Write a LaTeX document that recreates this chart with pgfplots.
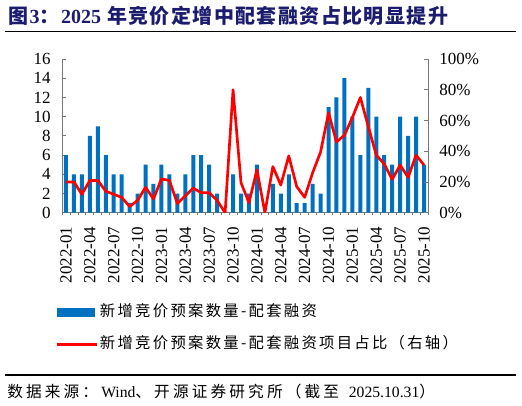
\documentclass[border=0pt]{standalone}
\usepackage{fontspec}
\usepackage{pgfplots}
\pgfplotsset{compat=1.18}
\setmainfont{Liberation Serif}
\newfontfamily\cjkleg[LetterSpace=15]{Noto Sans CJK SC}
\newfontfamily\cjksrc[LetterSpace=20]{Noto Sans CJK SC}
\newfontfamily\cjktitle[LetterSpace=7]{Noto Sans CJK SC}
\definecolor{barblue}{RGB}{0,112,192}
\definecolor{titleblue}{RGB}{28,28,110}
\definecolor{spine}{RGB}{120,120,120}

\pgfplotsset{
  base/.style={
    at={(46.5pt,144.2pt)}, anchor=south west,
    scale only axis, width=274.5pt, height=115.3pt,
    xmin=-0.5, xmax=45.5, ymin=0,
    axis line style={spine, line width=0.6pt},
    tick style={spine, line width=0.6pt},
    tick align=inside, major tick length=3pt,
    tick label style={font=\fontsize{12.75pt}{14pt}\selectfont},
    /pgf/number format/assume math mode=true,
  },
}

\begin{document}
\begin{tikzpicture}
\begin{scope}[x=0.75pt,y=0.75pt]
\useasboundingbox (0,0) rectangle (522,405);
\node[anchor=west, inner sep=0, text=titleblue, font=\fontsize{15pt}{17pt}\selectfont\bfseries]
  at (8,389.5) {\cjktitle 图\textrm{3}：\textrm{2025} 年竞价定增中配套融资占比明显提升};
\draw[line width=0.8pt] (5,373.5) -- (516,373.5);
\draw[line width=0.8pt] (5,30) -- (516,30);
\node[anchor=west, inner sep=0, font=\fontsize{11.75pt}{13pt}\selectfont]
  at (7,13.5) {\cjksrc 数据来源：\textrm{Wind}、开源证券研究所（截至 \textrm{2025.10.31}）};
\end{scope}

% 新增竞价预案数量-配套融资 (left axis)
\begin{axis}[base,
  ymax=16, ytick={0,2,...,16},
  axis x line*=bottom, axis y line*=left,
  ybar, bar width=3pt,
  xtick={0,3,...,45},
  xticklabels={2022-01,2022-04,2022-07,2022-10,2023-01,2023-04,2023-07,2023-10,
    2024-01,2024-04,2024-07,2024-10,2025-01,2025-04,2025-07,2025-10},
  x tick label style={rotate=90, anchor=east},
  xticklabel shift=4pt,
  major x tick style={draw=none},
  minor xtick={-0.5,0.5,...,45.5}, minor tick length=2pt,
  yticklabel shift=5pt,
  legend style={at={(axis description cs:-0.019,-0.589)}, anchor=north west,
    draw=none, fill=none, inner sep=0pt, row sep=11pt,
    font=\cjkleg\fontsize{11.5pt}{14pt}\selectfont,
    nodes={inner sep=1.5pt, text height=8pt, text depth=2pt}},
  legend cell align=left,
]
\addplot[fill=barblue, draw=none,
  legend image code/.code={\fill[barblue] (0pt,-3.4pt) rectangle (28.5pt,3.4pt);}]
  coordinates {
  (0,6) (1,4) (2,4) (3,8) (4,9) (5,6) (6,4) (7,4) (8,1) (9,2) (10,5) (11,3)
  (12,5) (13,4) (14,2) (15,4) (16,6) (17,6) (18,5) (19,2) (20,0) (21,4) (22,2) (23,2)
  (24,5) (25,0) (26,3) (27,2) (28,4) (29,1) (30,1) (31,3) (32,2) (33,11) (34,12) (35,14)
  (36,10) (37,6) (38,13) (39,10) (40,6) (41,5) (42,10) (43,8) (44,10) (45,5)
  };
\addlegendentry{新增竞价预案数量-配套融资}
\addlegendimage{legend image code/.code={\draw[red, line width=2pt] (0pt,0pt) -- (30pt,0pt);}}
\addlegendentry{新增竞价预案数量-配套融资项目占比（右轴）}
\end{axis}

% 占比 (right axis)
\begin{axis}[base,
  ymax=100, ytick={0,20,...,100},
  yticklabels={0\%,20\%,40\%,60\%,80\%,100\%},
  axis y line*=right, axis x line=none,
  yticklabel shift=5pt,
]
\addplot[red, line width=2pt, line join=round] coordinates {
  (0,20) (1,20) (2,12) (3,21) (4,21) (5,14) (6,12) (7,10) (8,4) (9,8) (10,16.5) (11,9)
  (12,22) (13,21) (14,6) (15,11) (16,16) (17,13) (18,13) (19,8) (20,0) (21,80) (22,19.5) (23,6.5)
  (24,28) (25,0) (26,30) (27,18) (28,37) (29,17) (30,10) (31,26) (32,39.5) (33,65) (34,46) (35,50.5)
  (36,62) (37,75) (38,56) (39,37.5) (40,31.7) (41,21.7) (42,31) (43,23) (44,37.5) (45,31)
  };
\end{axis}
\end{tikzpicture}
\end{document}
